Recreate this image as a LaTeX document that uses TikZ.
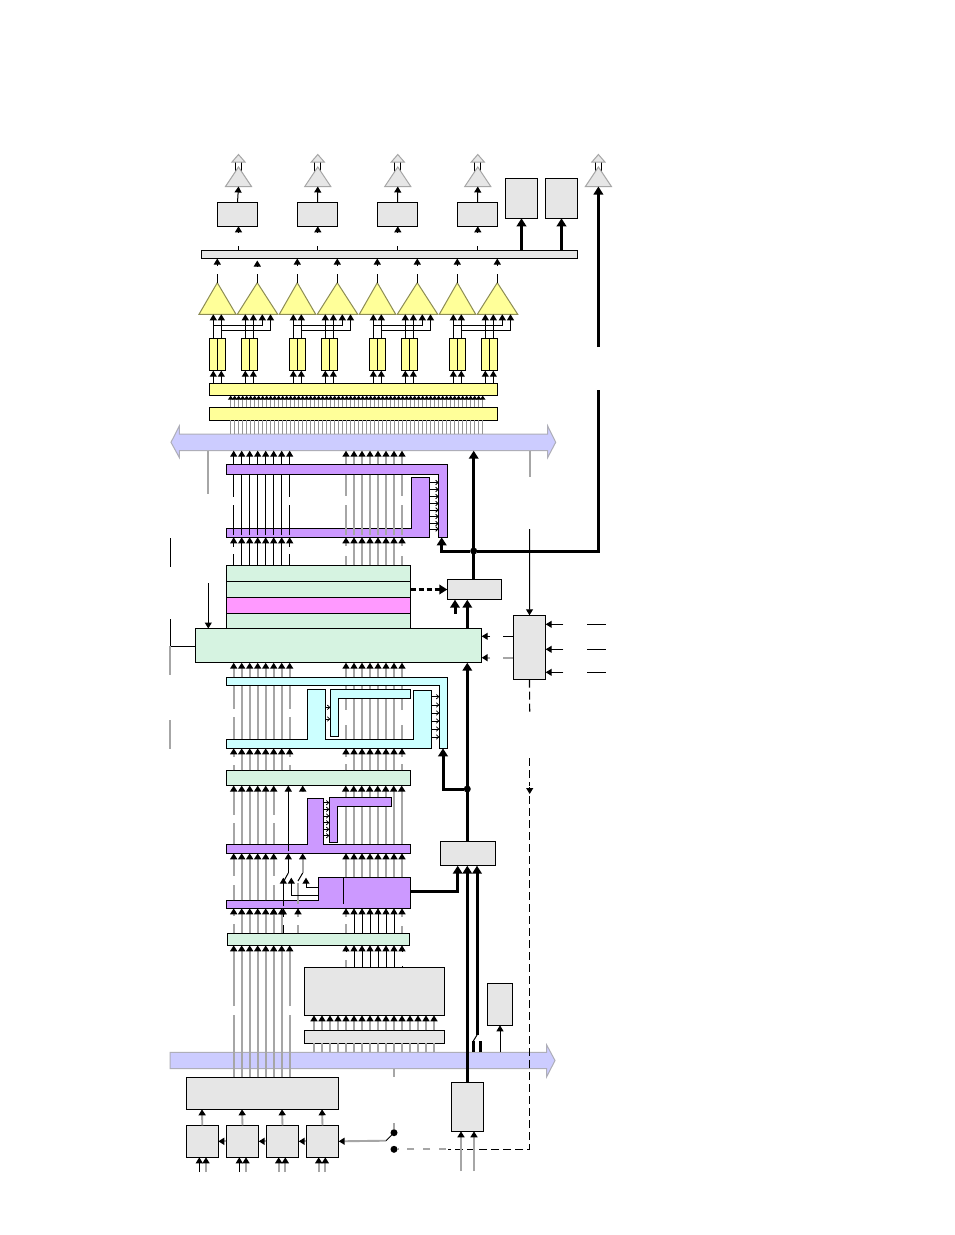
\documentclass[tikz,border=0pt]{standalone}
\usetikzlibrary{arrows.meta}
\definecolor{gbox}{HTML}{E6E6E6}
\definecolor{ylw}{HTML}{FFFF99}
\definecolor{pur}{HTML}{CC99FF}
\definecolor{cyn}{HTML}{CCFFFF}
\definecolor{grn}{HTML}{D6F3E1}
\definecolor{pnk}{HTML}{FF99FF}
\definecolor{busc}{HTML}{CCCCFF}
\definecolor{wg}{HTML}{A6A6A6}
\tikzset{
 boxs/.style={draw=black,line width=1.1pt,inner sep=0pt,outer sep=0pt},
 wireB/.style={draw=black,line width=1pt},
 wireG/.style={draw=wg,line width=1.9pt},
 wireF/.style={draw=wg!90!black,line width=1pt},
 heavy/.style={draw=black,line width=3pt},
 tip/.style={-{Triangle[width=7pt,length=6pt,black]}},
 tipH/.style={-{Triangle[width=9.5pt,length=8pt,black]}},
 barb/.style={draw=black,line width=0.8pt,-{Straight Barb[length=2.4pt,width=4.5pt]}},
 dashw/.style={draw=black,line width=1.15pt,dash pattern=on 8pt off 4pt},
 dot/.style={circle,fill=black,inner sep=0pt,minimum size=7pt,outer sep=0pt},
 shapeL/.style={draw=black,line width=1.1pt,line join=miter},
 bus/.style={fill=busc,draw=wg!80!busc,line width=1pt},
 antT/.style={fill=gbox,draw=wg,line width=1pt},
 ampT/.style={fill=ylw,draw=black!45!ylw,line width=1pt},
}
\newcommand\bx[6]{\pgfmathsetmacro\bw{#4-#2}\pgfmathsetmacro\bh{#5-#3}%
 \node[boxs,fill=#6,minimum width=\bw pt,minimum height=\bh pt] (#1) at ({(#2+#4)/2},{(#3+#5)/2}) {};}
\newcommand\tier[4][wireB]{\foreach \x in #2 {\draw[#1] (\x,0 |- #3) -- (\x,0 |- #4);}}
\newcommand\ant[2]{%
 \draw[wireB] (#2-3,161) -- (#2-3,172);
 \draw[wireB] (#2+3,161) -- (#2+3,172);
 \fill[antT] (#2,154.5) -- (#2+6.5,162) -- (#2-6.5,162) -- cycle;
 \fill[antT] (#2,167) -- (#2+13,186.5) -- (#2-13,186.5) -- cycle;
 \coordinate (#1) at (#2,186.5);}
\newcommand\amp[4]{%
 \fill[ampT] (#3,282.7) -- (#4,314.3) -- (#2,314.3) -- cycle;
 \coordinate (#1) at (#3,282.7);}
\def\Ga{233.7,241.7,249.7,257.7,265.7,273.7,281.7,289.7}
\def\Gai{241.7,249.7,257.7,265.7,273.7,281.7}
\def\Gae{233.7,289.7}
\def\Gb{346,354,362,370,378,386,394,402}
\def\Gbi{354,362,370,378,386,394}
\def\Gbe{346,402}
\def\Gc{233.7,241.7,249.7,257.7,265.7,273.7}
\begin{document}
\begin{tikzpicture}[x=1pt,y=-1pt]
\useasboundingbox (0,0) rectangle (954,1235);
\fill[white] (0,0) rectangle (954,1235);
% level coordinates
\coordinate (busTb) at (0,450.7);
\coordinate (busTt) at (0,434);
\coordinate (busBt) at (0,1052.3);
\coordinate (busBb) at (0,1068.7);
\coordinate (ampB) at (0,314.3);
\coordinate (purAt) at (0,464.3);
\coordinate (purAi) at (0,474.7);
\coordinate (purAj) at (0,528.5);
\coordinate (purAb) at (0,537.3);
\coordinate (cyAt) at (0,677.3);
\coordinate (cyAi) at (0,685.3);
\coordinate (cyAj) at (0,739.3);
\coordinate (cyAb) at (0,748.3);
\coordinate (purBt) at (0,844.3);
\coordinate (purBb) at (0,853.3);
\coordinate (purCt) at (0,900.3);
\coordinate (purCb) at (0,908.3);
\coordinate (blkT) at (0,877.3);
% buses
\fill[bus] (171,442.3) -- (179.3,426) -- (179.3,434) -- (547.7,434) -- (547.7,426) -- (555.7,442.3) -- (547.7,457.5) -- (547.7,450.7) -- (179.3,450.7) -- (179.3,457.5) -- cycle;
\fill[bus] (170,1052.3) -- (546.7,1052.3) -- (546.7,1045) -- (555,1060.5) -- (546.7,1076.7) -- (546.7,1068.7) -- (170,1068.7) -- cycle;
% wires that run behind the shapes
\tier[wireG]{\Gai}{cyAi}{0,745}
\tier[wireG]{\Gae}{cyAi}{0,709}
\tier[wireG]{\Gae}{0,717}{0,745}
\tier[wireG]{\Gbi}{cyAi}{0,745}
\tier[wireG]{\Gbe}{cyAi}{0,710}
\tier[wireG]{\Gbe}{0,725}{0,745}
\tier[wireG]{\Gc}{0,790}{purBt}
\tier[wireG]{\Gb}{0,790}{purBt}
% shapes: purple top
\filldraw[fill=pur,shapeL] (226.3,464.3) -- (447.7,464.3) -- (447.7,537.3) -- (438.7,537.3) -- (438.7,474.7) -- (226.3,474.7) -- cycle;
\filldraw[fill=pur,shapeL] (226.3,528.5) -- (411.7,528.5) -- (411.7,477.3) -- (429.7,477.3) -- (429.7,537.3) -- (226.3,537.3) -- cycle;
% shapes: cyan
\filldraw[fill=cyn,shapeL] (226.3,677.3) -- (447.7,677.3) -- (447.7,748.3) -- (439.3,748.3) -- (439.3,685.3) -- (226.3,685.3) -- cycle;
\filldraw[fill=cyn,shapeL] (226.3,739.3) -- (307.7,739.3) -- (307.7,689.3) -- (325.7,689.3) -- (325.7,739.3) -- (413.3,739.3) -- (413.3,690.3) -- (431.7,690.3) -- (431.7,748.3) -- (226.3,748.3) -- cycle;
\filldraw[fill=cyn,shapeL] (330.3,689.3) -- (410.7,689.3) -- (410.7,698.3) -- (338.7,698.3) -- (338.7,736.7) -- (330.3,736.7) -- cycle;
% shapes: purple middle
\filldraw[fill=pur,shapeL] (226.3,844.3) -- (307.3,844.3) -- (307.3,798.3) -- (323.7,798.3) -- (323.7,844.3) -- (410.7,844.3) -- (410.7,853.3) -- (226.3,853.3) -- cycle;
\filldraw[fill=pur,shapeL] (329.3,797.3) -- (391.3,797.3) -- (391.3,806.3) -- (337.3,806.3) -- (337.3,842.3) -- (329.3,842.3) -- cycle;
\filldraw[fill=pur,shapeL] (226.3,900.3) -- (318.3,900.3) -- (318.3,877.3) -- (410.7,877.3) -- (410.7,908.3) -- (226.3,908.3) -- cycle;
\draw[wireB] (343.3,877.3) -- (343.3,904);
% antennas
\ant{antA}{238.5}
\ant{antB}{317.8}
\ant{antC}{397.8}
\ant{antD}{477.8}
\ant{antE}{598.4}
% boxes
\bx{drvA}{217.3}{202.3}{257.7}{226.3}{gbox}
\bx{drvB}{297.3}{202.3}{337.7}{226.3}{gbox}
\bx{drvC}{377.3}{202.3}{417.7}{226.3}{gbox}
\bx{drvD}{457.3}{202.3}{497.7}{226.3}{gbox}
\bx{tallA}{505.3}{178.3}{537.7}{218.3}{gbox}
\bx{tallB}{545.3}{178.3}{577.7}{218.3}{gbox}
\bx{topbar}{201.3}{250.7}{577.7}{258.3}{gbox}
\bx{ybarA}{209.3}{383.3}{497.7}{395.7}{ylw}
\bx{ybarB}{209.3}{407.3}{497.7}{420.3}{ylw}
\bx{stackA}{226.3}{565.3}{410.7}{581.3}{grn}
\bx{stackB}{226.3}{581.3}{410.7}{597.3}{grn}
\bx{stackC}{226.3}{597.3}{410.7}{613.3}{pnk}
\bx{stackD}{226.3}{613.3}{410.7}{628.7}{grn}
\bx{wide}{195.7}{628.5}{481.7}{662.7}{grn}
\bx{ctrl}{447.3}{579.3}{501.7}{599.7}{gbox}
\bx{side}{513.3}{615.3}{545.7}{679.7}{gbox}
\bx{gbarA}{226.3}{770.3}{410.7}{785.5}{grn}
\bx{gbarB}{227.3}{933.3}{409.3}{945.3}{grn}
\bx{sel}{440.3}{841.3}{495.7}{865.7}{gbox}
\bx{mem}{304.3}{967.3}{444.7}{1015.3}{gbox}
\bx{membar}{304.3}{1030.3}{444.7}{1043.3}{gbox}
\bx{rbox}{487.3}{983.3}{512.7}{1025.3}{gbox}
\bx{bigbox}{186.3}{1077.3}{338.7}{1109.3}{gbox}
\bx{srcA}{186.3}{1125.3}{218.3}{1157.3}{gbox}
\bx{srcB}{226.3}{1125.3}{258.7}{1157.3}{gbox}
\bx{srcC}{266.3}{1125.3}{298.7}{1157.3}{gbox}
\bx{srcD}{306.3}{1125.3}{338.7}{1157.3}{gbox}
\bx{inbox}{451.3}{1082.3}{483.3}{1131.3}{gbox}
% amplifiers
\amp{ampA}{199}{217.3}{236}
\amp{ampB1}{237.3}{257.3}{277.7}
\amp{ampC}{279.3}{297.3}{315.7}
\amp{ampD}{317.3}{337.3}{357.7}
\amp{ampE}{359.3}{377.3}{395.7}
\amp{ampF}{397.3}{417.3}{437.7}
\amp{ampG}{439.3}{457.3}{475.7}
\amp{ampH}{477.3}{497.3}{517.7}
% registers and amp inputs
\foreach \o in {0,80,160,240}{
 \foreach \a/\b in {209.3/217.3,217.3/225.3,241.3/249.3,249.3/257.3}{
  \pgfmathsetmacro\aa{\a+\o}\pgfmathsetmacro\bb{\b+\o}
  \draw[boxs,fill=ylw] (\aa,338.3) rectangle (\bb,370.7);
  \pgfmathsetmacro\cc{(\a+\b)/2+\o}
  \draw[wireB,tip] (\cc,0 |- ybarA.north) -- (\cc,370.7);
  \draw[wireB,tip] (\cc,338.3) -- (\cc,0 |- ampB);
 }
 \pgfmathsetmacro\p{213.3+\o}\pgfmathsetmacro\q{221.3+\o}
 \pgfmathsetmacro\r{262.3+\o}\pgfmathsetmacro\s{270.5+\o}
 \draw[wireB,tip] (\p,325.3) -- (\r,325.3) -- (\r,0 |- ampB);
 \draw[wireB,tip] (\q,330.3) -- (\s,330.3) -- (\s,0 |- ampB);
}
% drivers, top bar, amplifiers
\foreach \n/\a/\x in {drvA/antA/238.5,drvB/antB/317.8,drvC/antC/397.8,drvD/antD/477.8}{
 \draw[wireB,tip] (\n.north) -- (\a);
 \draw[wireB] (\x,0 |- topbar.north) -- (\x,246);
 \draw[wireB,tip] (\x,231.5) -- (\x,0 |- \n.south);
}
\foreach \a/\x/\t in {ampA/217.3/258.5,ampB1/257.3/260.5,ampC/297.3/258.5,ampD/337.3/258.5,ampE/377.3/258.5,ampF/417.3/258.5,ampG/457.3/258.5,ampH/497.3/258.5}{
 \draw[wireB] (\a) -- (\x,274);
 \draw[wireB,tip] (\x,266) -- (\x,\t);
}
\draw[heavy,tipH] (topbar.north -| tallA.south) -- (tallA.south);
\draw[heavy,tipH] (topbar.north -| tallB.south) -- (tallB.south);
% fine wires between bars and bus
\foreach \i in {0,...,63}{
 \pgfmathsetmacro\xx{230.7+4*\i}
 \draw[wireF,-{Triangle[width=5.5pt,length=4pt,black]}] (\xx,0 |- ybarB.north) -- (\xx,0 |- ybarA.south);
 \draw[wireF] (\xx,0 |- ybarB.south) -- (\xx,0 |- busTt);
}
% tier A
\tier[wireB,tip]{\Ga}{purAt}{busTb}
\tier[wireG,tip]{\Gb}{purAt}{busTb}
% tier B
\tier[wireB]{\Gai}{purAi}{0,535}
\tier[wireB]{\Gae}{purAi}{0,497}
\tier[wireB]{\Gae}{0,505}{0,535}
\tier[wireG]{\Gbi}{purAi}{0,535}
\tier[wireG]{\Gbe}{purAi}{0,496}
\tier[wireG]{\Gbe}{0,505}{0,535}
% tier C
\tier[wireB,tip]{\Gai}{stackA.north}{purAb}
\tier[wireB]{\Gae}{stackA.north}{0,553.5}
\tier[wireB,tip]{\Gae}{0,547}{purAb}
\tier[wireG,tip]{\Gbi}{stackA.north}{purAb}
\tier[wireG]{\Gbe}{stackA.north}{0,556}
\tier[wireG,tip]{\Gbe}{0,546}{purAb}
% tier D
\tier[wireG,tip]{\Ga}{cyAt}{wide.south}
\tier[wireG,tip]{\Gb}{cyAt}{wide.south}
% tier F
\tier[wireG,tip]{\Gai}{gbarA.north}{cyAb}
\tier[wireG]{\Gae}{gbarA.north}{0,765}
\tier[wireG,tip]{\Gae}{0,757}{cyAb}
\tier[wireG,tip]{\Gbi}{gbarA.north}{cyAb}
\tier[wireG]{\Gbe}{gbarA.north}{0,764}
\tier[wireG,tip]{\Gbe}{0,757}{cyAb}
% tier G
\foreach \x in {233.7,241.7,249.7,257.7,265.7,273.7,345.7,353.7,361.7,369.7,377.7,385.7,393.7,401.7}{
 \draw[wireG,tip] (\x,791) -- (\x,0 |- gbarA.south);
}
\draw[wireB,tip] (288.3,851) -- (288.3,0 |- gbarA.south);
\draw[wireG,tip] (302.7,792) -- (302.7,0 |- gbarA.south);
\foreach \x in {233.7,273.7}{\fill[white] (\x-1.5,815) rectangle (\x+1.5,823);}
% tier H
\tier[wireG,tip]{\Gc}{purCt}{purBb}
\foreach \x in {233.7,273.7}{\fill[white] (\x-1.5,876) rectangle (\x+1.5,885);}
\tier[wireG,tip]{\Gb}{blkT}{purBb}
\draw[wireB,tip] (288.3,873) -- (288.3,0 |- purBb);
\draw[wireG,tip] (302.7,873) -- (302.7,0 |- purBb);
\draw[wireB,tip] (283.3,906) -- (283.3,877.7);
\draw[wireB] (283.3,882) -- (288.3,873);
\draw[wireG] (298,904) -- (298,883);
\draw[wireB] (298,881) -- (302.7,873);
\draw[wireB,tip] (318.3,895.7) -- (291.3,895.7) -- (291.3,877.7);
\draw[wireB,tip] (318.3,887.3) -- (306,887.3) -- (306,877.7);
% tier I
\tier[wireG]{\Gai}{gbarB.north}{0,912}
\tier[wireG,tip]{\Gai}{0,914}{purCb}
\foreach \x in {233.7,273.7}{
 \draw[wireG,tip] (\x,916) -- (\x,0 |- purCb);
 \draw[wireG] (\x,924) -- (\x,0 |- gbarB.north);
}
\tier[wireB,tip]{\Gbi}{gbarB.north}{purCb}
\draw[wireG,tip] (346,917) -- (346,0 |- purCb);
\draw[wireG,tip] (402,917) -- (402,0 |- purCb);
\draw[wireG] (346,924) -- (346,0 |- gbarB.north);
\draw[wireG] (402,926) -- (402,0 |- gbarB.north);
\draw[wireB] (283.3,0 |- gbarB.north) -- (283.3,925);
\draw[wireB,tip] (283.3,917) -- (283.3,0 |- purCb);
\draw[wireG] (298,0 |- gbarB.north) -- (298,925);
\draw[wireG,tip] (298,917) -- (298,0 |- purCb);
% tier J
\tier[wireG,tip]{\Gai}{bigbox.north}{gbarB.south}
\tier[wireG]{\Gae}{bigbox.north}{0,1015}
\tier[wireG,tip]{\Gae}{0,1006}{gbarB.south}
\tier[wireB,tip]{\Gbi}{mem.north}{gbarB.south}
\draw[wireG] (346,0 |- mem.north) -- (346,960);
\draw[wireB,tip] (346,951.5) -- (346,0 |- gbarB.south);
\draw[wireB,tip] (402,951.5) -- (402,0 |- gbarB.south);
\draw[wireB] (402,0 |- mem.north) -- (402,966);
% memory inputs
\foreach \i in {0,...,15}{
 \pgfmathsetmacro\xx{314+8*\i}
 \draw[wireG,tip] (\xx,0 |- membar.north) -- (\xx,0 |- mem.south);
 \draw[wireG] (\xx,0 |- busBt) -- (\xx,0 |- membar.south);
}
\draw[wireG] (394,0 |- busBb) -- (394,0 |- bigbox.north);
% small barbed arrows
\foreach \y in {482.5,489.5,496.5,503.5,510,516.5,523.5,529}{\draw[barb] (429.7,\y) -- (438.7,\y);}
\foreach \y in {696.7,705,713,721,729,737}{\draw[barb] (431.7,\y) -- (439.3,\y);}
\foreach \y in {707.3,719}{\draw[barb] (325.7,\y) -- (330.3,\y);}
\foreach \y in {802.7,809.3,816,822.7,829.3,835.7}{\draw[barb] (323.7,\y) -- (329.3,\y);}
% heavy control lines
\node[dot] (jA) at (473.7,551) {};
\node[dot] (jB) at (467.3,789) {};
\draw[heavy,tipH] (ctrl.north -| jA) -- (jA |- busTb);
\draw[heavy,tipH] (jA) -- (441.7,551) -- (441.7,0 |- purAb);
\draw[heavy] (jA) -- (598.4,551) -- (598.4,390);
\draw[heavy,tipH] (598.4,347) -- (antE);
\draw[heavy,tipH] (sel.north -| jB) -- (jB |- wide.south);
\draw[heavy,tipH] (wide.north -| jB) -- (jB |- ctrl.south);
\draw[heavy,tipH] (455,613.7) -- (455,0 |- ctrl.south);
\draw[heavy,tipH] (jB) -- (443,789) -- (443,0 |- cyAb);
\draw[heavy,dash pattern=on 5pt off 3pt,tipH] (stackB.east |- ctrl.west) -- (ctrl.west);
\draw[heavy,tipH] (410.7,891.7) -- (457.7,891.7) -- (457.7,0 |- sel.south);
\draw[heavy,tipH] (inbox.north -| jB) -- (jB |- sel.south);
\draw[heavy,tipH] (477,1035) -- (477,0 |- sel.south);
\draw[wireB] (477,1035) -- (473.3,1041);
\draw[heavy] (473.3,1041) -- (473.3,0 |- busBt);
\draw[heavy] (480.3,1041) -- (480.3,0 |- busBt);
\draw[wireB,tip] (rbox.south |- busBt) -- (rbox.south);
% side controller
\draw[wireG] (208.3,450.7) -- (208.3,494);
\draw[wireB,tip] (208.3,583.3) -- (208.3,0 |- wide.north);
\draw[wireG] (529.7,0 |- busTb) -- (529.7,477);
\draw[wireB,tip] (529.7,529) -- (side.north);
\foreach \y in {624.3,649.3,672.3}{
 \draw[wireB,tip] (563.3,\y) -- (side.east |- 0,\y);
 \draw[wireB] (587,\y) -- (605.7,\y);
}
\draw[wireB,tip] (490,636.3) -- (wide.east |- 0,636.3);
\draw[wireG,tip] (490,657.7) -- (wide.east |- 0,657.7);
\draw[wireB] (503.3,636.3) -- (side.west |- 0,636.3);
\draw[wireG] (503.3,657.7) -- (side.west |- 0,657.7);
% left edge
\draw[wireB] (170,538.3) -- (170,566.7);
\draw[wireB] (170,619.3) -- (170,646.3) -- (wide.west |- 0,646.3);
\draw[wireG] (170,646.3) -- (170,674.7);
\draw[wireG] (170,720) -- (170,749.3);
% dashed return
\node[dot] (swA) at (394,1132.7) {};
\node[dot] (swB) at (394,1149.3) {};
\draw[dashw] (side.south) -- (529.7,714);
\draw[dashw] (529.7,758) -- (529.7,786);
\draw[wireB,tip] (529.7,787) -- (529.7,794);
\draw[dashw] (529.7,796) -- (529.7,1149.3) -- (448,1149.3);
\draw[wireG,dash pattern=on 7pt off 9pt] (446,1149.3) -- (swB);
% bottom section
\foreach \x/\a in {202/srcA,242/srcB,282/srcC,322/srcD}{
 \draw[wireG,tip] (\a.north) -- (\x,0 |- bigbox.south);
}
\draw[wireG,tip] (srcB.west) -- (srcA.east);
\draw[wireG,tip] (srcC.west) -- (srcB.east);
\draw[wireG,tip] (srcD.west) -- (srcC.east);
\draw[wireG,tip] (386,1140.7) -- (srcD.east);
\draw[wireB] (386,1140.7) -- (swA);
\draw[wireG] (394,1123) -- (swA);
\foreach \x/\g in {199.3/wireB,206/wireG,239.3/wireB,246/wireG,278.7/wireG,285.3/wireG,318.7/wireG,325.3/wireG}{
 \draw[\g,tip] (\x,1172) -- (\x,0 |- srcA.south);
}
\draw[wireG,tip] (461,1171) -- (461,0 |- inbox.south);
\draw[wireG,tip] (474,1171) -- (474,0 |- inbox.south);
\end{tikzpicture}
\end{document}
